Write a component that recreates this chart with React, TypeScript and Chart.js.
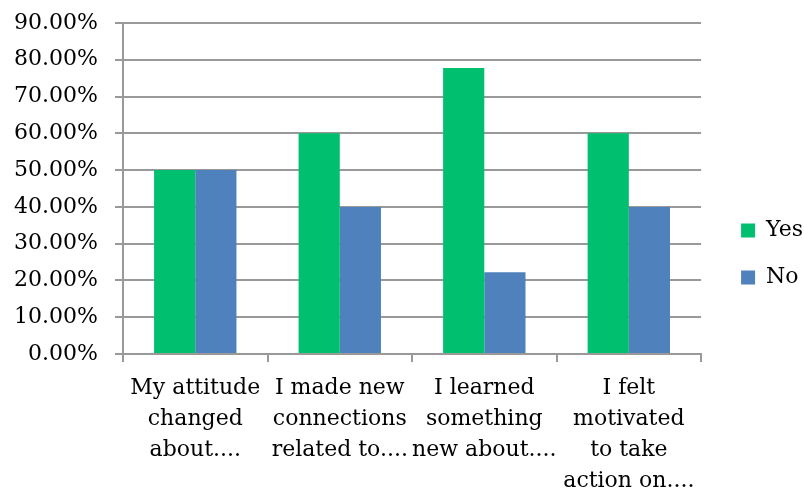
import React, { useEffect, useRef } from "react";
import { Chart, registerables } from "chart.js";

Chart.register(...registerables);

const categories: string[][] = [
  ["My attitude", "changed", "about...."],
  ["I made new", "connections", "related to...."],
  ["I learned", "something", "new about...."],
  ["I felt", "motivated", "to take", "action on...."],
];
const yesValues = [50, 60, 77.78, 60];
const noValues = [50, 40, 22.22, 40];
const seriesNames = ["Yes", "No"];

const FONT = "'DejaVu Serif', serif";

const legendShift = {
  id: "legendShift",
  afterLayout(chart: any) {
    const l = chart.legend;
    if (l) {
      l.left += 15;
      l.right += 15;
      l.top -= 5;
      l.bottom -= 5;
    }
  },
};

export default function App() {
  const ref = useRef<HTMLCanvasElement | null>(null);
  useEffect(() => {
    document.body.style.margin = "0";
    const ctx = ref.current!;
    const chart = new Chart(ctx, {
      type: "bar",
      data: {
        labels: categories,
        datasets: [
          {
            label: seriesNames[0],
            data: yesValues,
            backgroundColor: "#00BF6F",
            barPercentage: 1,
            categoryPercentage: 0.57,
          },
          {
            label: seriesNames[1],
            data: noValues,
            backgroundColor: "#4F81BD",
            barPercentage: 1,
            categoryPercentage: 0.57,
          },
        ],
      },
      plugins: [legendShift],
      options: {
        responsive: false,
        animation: false,
        layout: { padding: { top: 23, left: 0, right: 6, bottom: 0 } },
        plugins: {
          tooltip: { enabled: false },
          legend: {
            position: "right",
            labels: {
              font: { family: FONT, size: 22 },
              color: "#000",
              boxWidth: 14,
              boxHeight: 14,
              padding: 25,
            },
          },
        },
        scales: {
          x: {
            afterFit: (scale: any) => {
              scale.height = 141;
            },
            grid: {
              offset: true,
              drawOnChartArea: false,
              tickLength: 8,
              color: "#999",
              lineWidth: 2,
            },
            border: { display: true, color: "#999", width: 2 },
            ticks: {
              autoSkip: false,
              color: "#000",
              font: { family: FONT, size: 22, lineHeight: 1.4 },
              maxRotation: 0,
              padding: 11,
            },
          },
          y: {
            min: 0,
            max: 90,
            afterFit: (scale: any) => {
              scale.width = 123;
              scale.paddingTop = 0;
              scale.paddingBottom = 0;
            },
            ticks: {
              stepSize: 10,
              color: "#000",
              font: { family: FONT, size: 22 },
              padding: 17,
              callback: (v: any) => Number(v).toFixed(2) + "%",
            },
            grid: { color: "#999", lineWidth: 2, tickLength: 8 },
            border: { display: true, color: "#999", width: 2 },
          },
        },
      },
    });
    return () => chart.destroy();
  }, []);
  return (
    <div style={{ width: 804, height: 495 }}>
      <canvas ref={ref} width={804} height={495} />
    </div>
  );
}
